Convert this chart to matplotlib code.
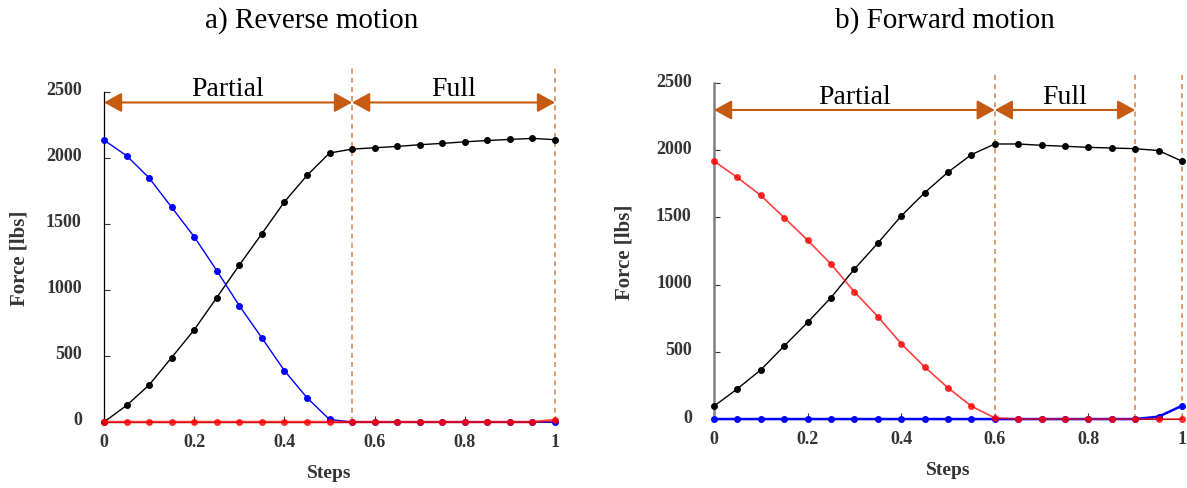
import matplotlib
matplotlib.use("Agg")
import matplotlib.pyplot as plt
import matplotlib.transforms as mtransforms
import numpy as np

plt.rcParams['font.family'] = ['Liberation Serif', 'DejaVu Serif']

# ---------------- data ----------------
steps = [0.0, 0.05, 0.10, 0.15, 0.20, 0.25, 0.30, 0.35, 0.40, 0.45, 0.50,
         0.55, 0.60, 0.65, 0.70, 0.75, 0.80, 0.85, 0.90, 0.95, 1.0]

# a) Reverse motion
rev_black = [0, 125, 280, 488, 698, 942, 1188, 1426, 1667, 1867, 2037,
             2067, 2077, 2087, 2100, 2110, 2122, 2132, 2140, 2148, 2138]
rev_blue = [2135, 2017, 1849, 1626, 1403, 1147, 881, 637, 389, 184, 19,
            0, 0, 0, 0, 0, 0, 0, 0, 0, 0]
rev_red = [0, 0, 0, 0, 0, 0, 0, 0, 0, 0, 0,
           0, 0, 0, 0, 0, 0, 0, 0, 0, 15]
rev_bounds = [0.0, 0.55, 1.0]

# b) Forward motion
fwd_black = [96, 225, 366, 544, 719, 904, 1116, 1309, 1511, 1684, 1837,
             1968, 2047, 2047, 2037, 2030, 2022, 2017, 2012, 1998, 1919]
fwd_red = [1919, 1798, 1664, 1499, 1331, 1153, 946, 763, 561, 388, 232,
           96, 8, 0, 0, 0, 0, 0, 0, 0, 0]
fwd_blue = [0, 0, 0, 0, 0, 0, 0, 0, 0, 0, 0,
            0, 0, 0, 0, 0, 0, 0, 0, 18, 99]
fwd_bounds = [0.0, 0.6, 0.9, 1.0]

titles = ["a) Reverse motion", "b) Forward motion"]
region_labels = ["Partial", "Full"]
xticks = [0, 0.2, 0.4, 0.6, 0.8, 1.0]
xticklabels = ["0", "0.2", "0.4", "0.6", "0.8", "1"]
yticks = [0, 500, 1000, 1500, 2000, 2500]

ORANGE = "#C55A11"
DASH = "#D98C55"

fig = plt.figure(figsize=(11.87, 4.89), dpi=100)
axL = fig.add_axes([0.0876, 0.135, 0.380, 0.675])
axR = fig.add_axes([0.6015, 0.141, 0.3943, 0.687])


def style(ax, spine_color, spine_lw):
    ax.set_xlim(0, 1)
    ax.set_ylim(0, 2500)
    for s in ['top', 'right']:
        ax.spines[s].set_visible(False)
    ax.spines['left'].set_color(spine_color)
    ax.spines['left'].set_linewidth(spine_lw)
    ax.spines['bottom'].set_color('#333333')
    ax.spines['bottom'].set_linewidth(0.8)
    ax.set_xticks(xticks)
    ax.set_xticklabels(xticklabels)
    ax.set_yticks(yticks)
    ax.tick_params(direction='in', length=4, width=0.8, colors='#333333',
                   labelsize=13, labelcolor='#333333')
    ax.tick_params(axis='x', pad=8)
    ax.tick_params(axis='y', pad=16)
    for lab in ax.get_xticklabels() + ax.get_yticklabels():
        lab.set_fontweight('bold')
    off = mtransforms.ScaledTranslation(0, 4 / 100, fig.dpi_scale_trans)
    for lab in ax.get_yticklabels():
        lab.set_transform(lab.get_transform() + off)
    ax.set_xlabel("Steps", fontsize=14, fontweight='bold', color='#333333',
                  labelpad=10)
    ax.set_ylabel("Force [lbs]", fontsize=15, fontweight='bold',
                  color='#333333')


def series(ax, y, color, alpha=1.0, lw=1.0, z=3):
    ax.plot(steps, y, color=color, lw=lw, marker='o', markersize=4,
            alpha=alpha, clip_on=False, zorder=z)


def regions(ax, bounds, arrow_y, text_y, dash_top, n_arrows):
    for b in bounds[1:]:
        ax.plot([b, b], [0, dash_top], ls=(0, (3, 2.5)), color=DASH, lw=1.2,
                clip_on=False, zorder=2)
    for i in range(n_arrows):
        a, b = bounds[i], bounds[i + 1]
        ax.annotate("", xy=(b, arrow_y), xytext=(a, arrow_y),
                    arrowprops=dict(arrowstyle='<|-|>,head_length=0.4,head_width=0.22',
                                    mutation_scale=27, color=ORANGE, lw=1.5,
                                    shrinkA=0, shrinkB=0),
                    annotation_clip=False, zorder=4)
        ax.text((a + b) / 2, text_y, region_labels[i], ha='center', va='center',
                fontsize=20, color='black', clip_on=False)


# ---- a) Reverse ----
style(axL, 'black', 0.9)
regions(axL, rev_bounds, 2420, 2525, 2680, 2)
series(axL, rev_black, 'black')
series(axL, rev_blue, 'blue')
series(axL, rev_red, 'red', alpha=0.75, lw=1.8, z=4)
axL.yaxis.set_label_coords(-0.165, 0.5)
fig.text(0.263, 0.958, titles[0], ha='center', va='center', fontsize=21)

# ---- b) Forward ----
style(axR, '#808080', 1.8)
regions(axR, fwd_bounds, 2300, 2400, 2580, 2)
series(axR, fwd_black, 'black')
series(axR, fwd_blue, 'blue', lw=1.8)
series(axR, fwd_red, 'red', alpha=0.75, lw=1.2, z=4)
axR.yaxis.set_label_coords(-0.17, 0.5)
fig.text(0.796, 0.958, titles[1], ha='center', va='center', fontsize=21)

fig.savefig("out.png", dpi=100)
